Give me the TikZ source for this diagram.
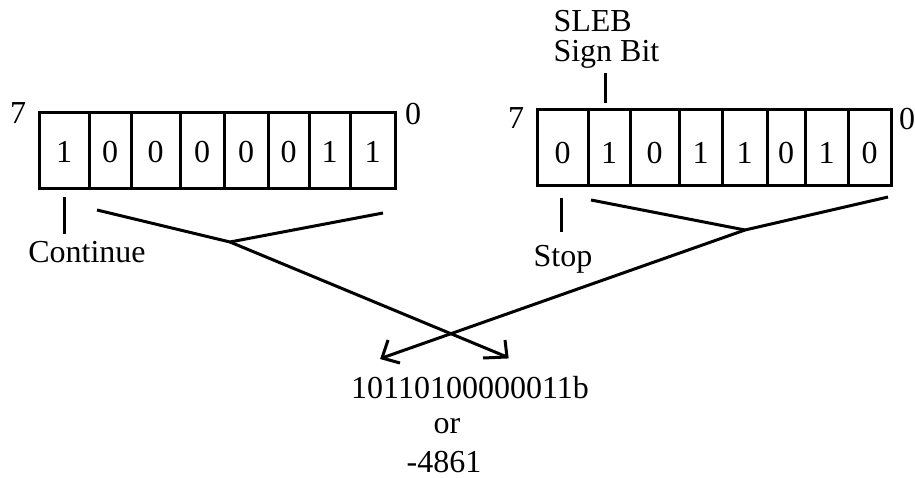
\documentclass[tikz,border=0pt]{standalone}
\usepackage{fontspec}
\setmainfont{Liberation Serif}
\begin{document}
\begin{tikzpicture}[x=1pt,y=-1pt,line width=3pt,
  every node/.style={font=\fontsize{32}{36}\selectfont,inner sep=0pt}]
\useasboundingbox (0,0) rectangle (915,478);
% first byte
\foreach \xa/\xb/\bit [count=\i] in {39/89/1,89/131/0,131/180/0,180/224/0,224/268/0,268/309/0,309/350/1,350/395/1}
{\draw (\xa,113) rectangle (\xb,189);
\node (a\i) at ({(\xa+\xb)/2},152) {\bit};}
\node (a7lbl) at (18,113) {7};
\node (a0lbl) at (413,114) {0};
% second byte
\foreach \xa/\xb/\bit [count=\i] in {537/588/0,588/630/1,630/679/0,679/722/1,722/767/1,767/805/0,805/848/1,848/891/0}
{\draw (\xa,110) rectangle (\xb,186);
\node (b\i) at ({(\xa+\xb)/2},153) {\bit};}
\node (b7lbl) at (516,118) {7};
\node (b0lbl) at (907,119) {0};
% labels
\node [anchor=base] (cont) at (87,262) {Continue};
\node [anchor=base] (stop) at (563,267) {Stop};
\node [anchor=base west] (sleb) at (552,32) {SLEB};
\node [anchor=base west] (sign) at (552,62) {Sign Bit};
\draw (64,197) -- (64,234);
\draw (561,198) -- (561,232);
\draw (605,73) -- (605,103);
% joining lines
\coordinate (ja) at (230,242);
\coordinate (jb) at (745,230);
\coordinate (ta) at (507,357);
\coordinate (tb) at (382,358);
\draw (97,210) -- (ja);
\draw (383,213) -- (ja);
\draw (591,200) -- (jb);
\draw (888,197) -- (jb);
\draw (ja) -- (ta);
\draw (jb) -- (tb);
\draw (505,340) -- (ta) -- (483,358);
\draw (388,340) -- (tb) -- (400,363);
% result
\node [anchor=base] (bin) at (470,398) {10110100000011b};
\node [anchor=base] (or) at (447,433) {or};
\node [anchor=base] (dec) at (444,472) {-4861};
\end{tikzpicture}
\end{document}
